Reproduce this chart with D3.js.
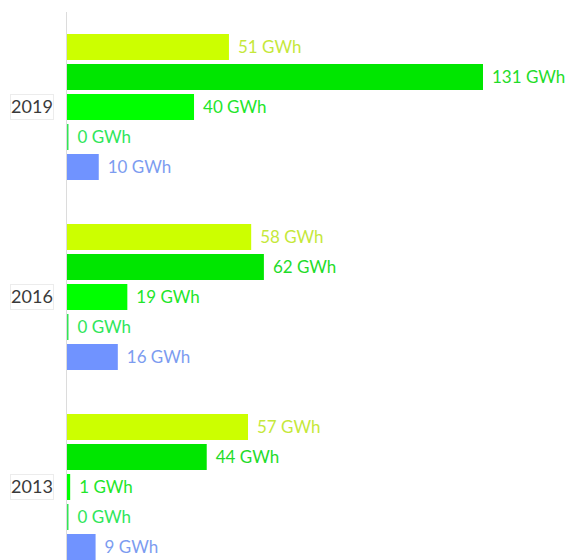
<!DOCTYPE html>
<html lang="en">
<head>
<meta charset="UTF-8">
<script src="https://d3js.org/d3.v7.min.js"></script>
<style>
  body { margin: 0; background: #fff; }
  #plot { position: absolute; width: 569px; height: 560px; overflow: hidden; }
  text { font-family: Lato, "Noto Sans", sans-serif; }
</style>
</head>
<body>
<div id="plot"></div>
<script>
// data (GWh)
const years = ["2019", "2016", "2013"];
const series = ["s1", "s2", "s3", "s4", "s5"];
const values2019 = [51, 131, 40, 0, 10];
const values2016 = [58, 62, 19, 0, 16];
const values2013 = [57, 44, 1, 0, 9];
const valuesByYear = { "2019": values2019, "2016": values2016, "2013": values2013 };

const barColors = ["#ccff00", "#00e600", "#00ff00", "#33e655", "#7093ff"];
const labelColors = ["#c5e83a", "#1fdc2a", "#22e62a", "#2fe65a", "#7c9cf0"];

function chart() {
  const width = 569, height = 560;
  const svg = d3.select("#plot").append("svg")
      .attr("width", width)
      .attr("height", height);

  // scales
  const x = d3.scaleLinear()
      .domain([0, 131])
      .range([67, 483]);

  const yGroup = d3.scaleBand()
      .domain(years)
      .range([32, 562])
      .paddingInner(40 / 190);

  const ySeries = d3.scaleBand()
      .domain(series)
      .range([0, yGroup.bandwidth()])
      .paddingInner(4 / 30)
      .paddingOuter(2 / 30);

  const color = d3.scaleOrdinal().domain(series).range(barColors);
  const labelColor = d3.scaleOrdinal().domain(series).range(labelColors);

  // vertical axis line
  svg.append("line")
      .attr("x1", x(0) - 0.5).attr("x2", x(0) - 0.5)
      .attr("y1", 12).attr("y2", height)
      .attr("stroke", "#dcdcdc")
      .attr("stroke-width", 1);

  const groups = svg.selectAll("g.year")
    .data(years)
    .join("g")
      .attr("class", "year")
      .attr("transform", d => `translate(0, ${yGroup(d)})`);

  const rows = groups.selectAll("g.row")
    .data(yr => series.map((s, i) => ({ year: yr, key: s, value: valuesByYear[yr][i] })))
    .join("g")
      .attr("class", "row");

  rows.append("rect")
      .attr("x", x(0))
      .attr("y", d => ySeries(d.key))
      .attr("height", ySeries.bandwidth())
      .attr("width", d => Math.max(x(d.value) - x(0), 1.5))
      .attr("fill", d => color(d.key));

  rows.append("text")
      .attr("x", d => Math.max(x(d.value), x(0) + 1.5) + 9)
      .attr("y", d => ySeries(d.key) + ySeries.bandwidth() / 2)
      .attr("dy", "0.36em")
      .attr("fill", d => labelColor(d.key))
      .style("font-size", "17px")
      .text(d => `${d.value} GWh`);

  // year tag next to the middle bar
  const mid = series[2];
  groups.append("rect")
      .attr("x", 10.5)
      .attr("y", ySeries(mid) + 0.5)
      .attr("width", 43)
      .attr("height", ySeries.bandwidth() - 1)
      .attr("fill", "#fff")
      .attr("stroke", "#ececec");

  groups.append("text")
      .attr("x", 32)
      .attr("y", ySeries(mid) + ySeries.bandwidth() / 2)
      .attr("dy", "0.36em")
      .attr("text-anchor", "middle")
      .attr("fill", "#3a3a3a")
      .style("font-size", "18px")
      .text(d => d);
}

chart();
</script>
</body>
</html>
